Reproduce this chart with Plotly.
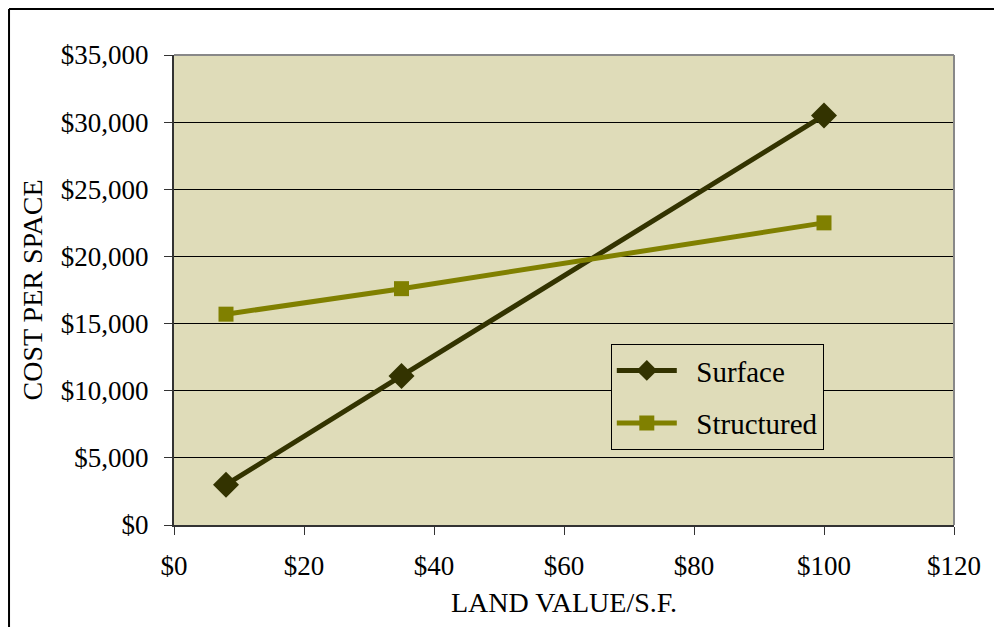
import plotly.graph_objects as go

land_value = [8, 35, 100]
surface_cost = [3000, 11100, 30500]
structured_cost = [15700, 17600, 22500]
x_ticks = [0, 20, 40, 60, 80, 100, 120]
y_ticks = [0, 5000, 10000, 15000, 20000, 25000, 30000, 35000]
series_names = ["Surface", "Structured"]

FONT = "Liberation Serif"
PAD = "\u00a0\u00a0"

fig = go.Figure()
fig.add_trace(go.Scatter(
    x=land_value, y=surface_cost, name=PAD + series_names[0], mode="lines+markers",
    legendgroup="a",
    line=dict(color="#333300", width=5, shape="spline"),
    marker=dict(symbol="diamond", size=20, color="#333300"),
))
fig.add_trace(go.Scatter(
    x=land_value, y=structured_cost, name=PAD + series_names[1], mode="lines+markers",
    legendgroup="b",
    line=dict(color="#808000", width=5, shape="spline"),
    marker=dict(symbol="square", size=15, color="#808000"),
))

fig.update_layout(
    width=1002, height=627,
    margin=dict(l=166, r=56, t=47, b=110),
    paper_bgcolor="white",
    plot_bgcolor="#DFDCB9",
    font=dict(family=FONT, size=27, color="black"),
    showlegend=True,
    legend=dict(
        x=0.56, y=0.385, xanchor="left", yanchor="top",
        bgcolor="#DFDCB9", bordercolor="black", borderwidth=1,
        font=dict(family=FONT, size=29, color="black"),
        itemwidth=60, tracegroupgap=12,
    ),
    xaxis=dict(
        range=[0, 120], tickvals=x_ticks,
        ticktext=["$%d" % v for v in x_ticks],
        showgrid=False, zeroline=False,
        showline=True, linecolor="#333333", linewidth=2,
        ticks="outside", ticklen=8, tickcolor="#333333", tickwidth=1,
        ticklabelstandoff=8,
        title=dict(text="LAND VALUE/S.F.", font=dict(family=FONT, size=28), standoff=12),
        tickfont=dict(family=FONT, size=27),
    ),
    yaxis=dict(
        range=[0, 35000], tickvals=y_ticks,
        ticktext=["${:,}".format(v) for v in y_ticks],
        showgrid=True, gridcolor="black", gridwidth=1, zeroline=False,
        showline=True, linecolor="#333333", linewidth=2,
        ticks="outside", ticklen=8, tickcolor="#333333", tickwidth=1,
        ticklabelstandoff=10,
        title=dict(text="COST PER SPACE", font=dict(family=FONT, size=28), standoff=10),
        tickfont=dict(family=FONT, size=27),
    ),
)

# plot area top/right gray border
fig.add_shape(type="line", xref="paper", yref="paper", x0=0, x1=1, y0=1, y1=1,
              line=dict(color="#888888", width=2))
fig.add_shape(type="line", xref="paper", yref="paper", x0=1, x1=1, y0=0, y1=1,
              line=dict(color="#888888", width=2))
# outer chart border (left and top visible)
fig.add_shape(type="line", xref="paper", yref="paper", x0=-0.2115, x1=-0.2115, y0=-0.3, y1=1.0979,
              line=dict(color="black", width=2))
fig.add_shape(type="line", xref="paper", yref="paper", x0=-0.2115, x1=1.2, y0=1.0979, y1=1.0979,
              line=dict(color="black", width=2))

fig.write_html("out.html")
